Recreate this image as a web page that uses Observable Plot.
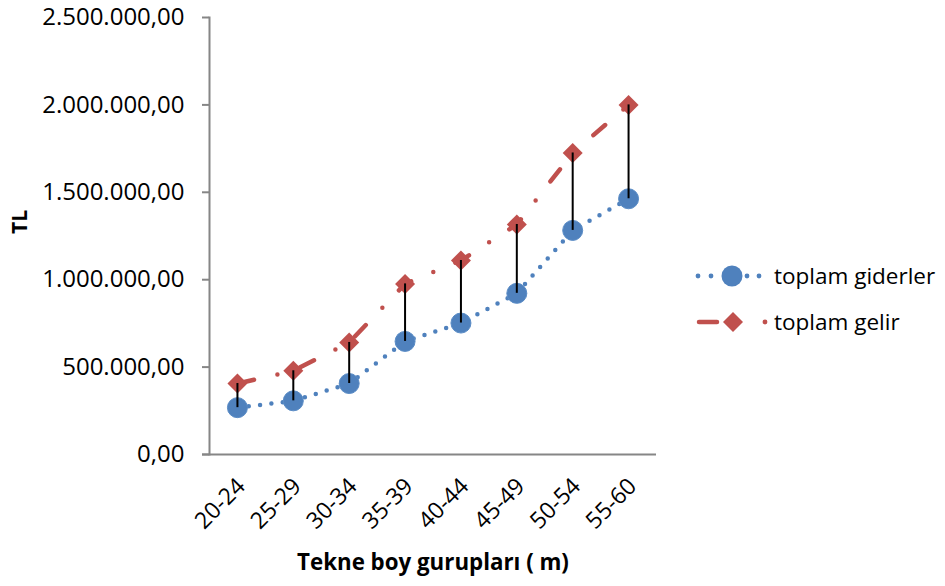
<!DOCTYPE html>
<html>
<head>
<meta charset="utf-8">
<script src="https://cdn.jsdelivr.net/npm/d3@7"></script>
<script src="https://cdn.jsdelivr.net/npm/@observablehq/plot@0.6"></script>
<style>
  body { margin: 0; background: #fff; }
  #chart { position: relative; width: 945px; height: 586px; font-family: "Open Sans", sans-serif; color: #000; }
  .legend-item { position: absolute; display: flex; align-items: center; height: 28px; }
  .legend-item span { font-size: 22.5px; line-height: 28px; white-space: nowrap; }
</style>
</head>
<body>
<div id="chart"></div>
<script>
// Boat length groups (m)
const groups = ["20-24", "25-29", "30-34", "35-39", "40-44", "45-49", "50-54", "55-60"];
// Total expenses and total income per group (TL)
const giderler = [268000, 307000, 406000, 647000, 752000, 922000, 1282000, 1463000];
const gelir = [406000, 479000, 641000, 976000, 1110000, 1316000, 1725000, 2000000];
const yTicks = [0, 500000, 1000000, 1500000, 2000000, 2500000];
const seriesNames = ["toplam giderler", "toplam gelir"];
const seriesColors = ["#4F81BD", "#C0504D"];
const xTitle = "Tekne boy gurupları ( m)";
const yTitle = "TL";

const rows = groups.map((g, i) => ({group: g, giderler: giderler[i], gelir: gelir[i]}));

// Turkish number format: 2.500.000,00
const trFormat = d3.formatLocale({decimal: ",", thousands: ".", grouping: [3], currency: ["", ""]}).format(",.2f");

const axisGray = "#868686";

const chart = Plot.plot({
  width: 945,
  height: 586,
  marginLeft: 209,
  marginRight: 289,
  marginTop: 17,
  marginBottom: 132,
  style: {fontFamily: "'Open Sans', sans-serif", fontSize: "20px", color: "#000", background: "#fff", overflow: "visible"},
  x: {type: "band", domain: groups, padding: 0, round: false, label: null},
  y: {domain: [0, 2500000], label: null},
  marks: [
    Plot.axisY({ticks: yTicks, tickFormat: trFormat, tickSize: 7, tickPadding: 18, stroke: axisGray, strokeWidth: 2, fill: "#000", fontSize: 24, label: null}),
    Plot.axisX({tickSize: 0, tickRotate: -45, tickPadding: 28, dx: 4, fontSize: 23, fill: "#000", label: null}),
    Plot.frame({anchor: "left", stroke: axisGray, strokeWidth: 2}),
    Plot.ruleY([0], {stroke: axisGray, strokeWidth: 2, insetLeft: -7}),
    // total expenses: round-dot line
    Plot.line(rows, {x: "group", y: "giderler", stroke: seriesColors[0], strokeWidth: 4.5, strokeLinecap: "round", strokeDasharray: "0 11.4"}),
    // total income: long-dash-dot line
    Plot.line(rows, {x: "group", y: "gelir", stroke: seriesColors[1], strokeWidth: 4.5, strokeLinecap: "round", strokeDasharray: "15.5 24 0 24", strokeDashoffset: -1.5}),
    Plot.dot(rows, {x: "group", y: "giderler", r: 10, fill: seriesColors[0], stroke: "#5a8cc6", strokeWidth: 1}),
    Plot.dot(rows, {x: "group", y: "gelir", r: 9, symbol: "diamond2", fill: seriesColors[1], stroke: "none"}),
    // high-low lines between the two series
    Plot.ruleX(rows, {x: "group", y1: "giderler", y2: "gelir", stroke: "#000", strokeWidth: 2}),
    Plot.text([yTitle], {frameAnchor: "left", dx: -189, dy: -2, rotate: -90, fontWeight: "bold", fontSize: 21, fill: "#000"}),
    Plot.text([xTitle], {frameAnchor: "bottom", dy: 115, fontWeight: "bold", fontSize: 22.3, fill: "#000"})
  ]
});

const root = document.getElementById("chart");
root.appendChild(chart);

// Legend
const legendItems = [
  {name: seriesNames[0], color: seriesColors[0], top: 262, swatch: c =>
    `<circle cx="8" cy="14" r="2.4" fill="${c}"/><circle cx="21" cy="14" r="2.4" fill="${c}"/>` +
    `<circle cx="42" cy="14" r="10.5" fill="${c}"/>` +
    `<circle cx="57" cy="14" r="2.4" fill="${c}"/><circle cx="69" cy="14" r="2.4" fill="${c}"/>`},
  {name: seriesNames[1], color: seriesColors[1], top: 308, swatch: c =>
    `<line x1="9" y1="14" x2="27" y2="14" stroke="${c}" stroke-width="4.5" stroke-linecap="round"/>` +
    `<path d="M43,4 L53,14 L43,24 L33,14 Z" fill="${c}"/>` +
    `<circle cx="75" cy="14" r="2.4" fill="${c}"/>`}
];
legendItems.forEach(item => {
  const div = document.createElement("div");
  div.className = "legend-item";
  div.style.left = "690px";
  div.style.top = item.top + "px";
  div.innerHTML = `<svg width="84" height="28">${item.swatch(item.color)}</svg><span>${item.name}</span>`;
  root.appendChild(div);
});
</script>
</body>
</html>
